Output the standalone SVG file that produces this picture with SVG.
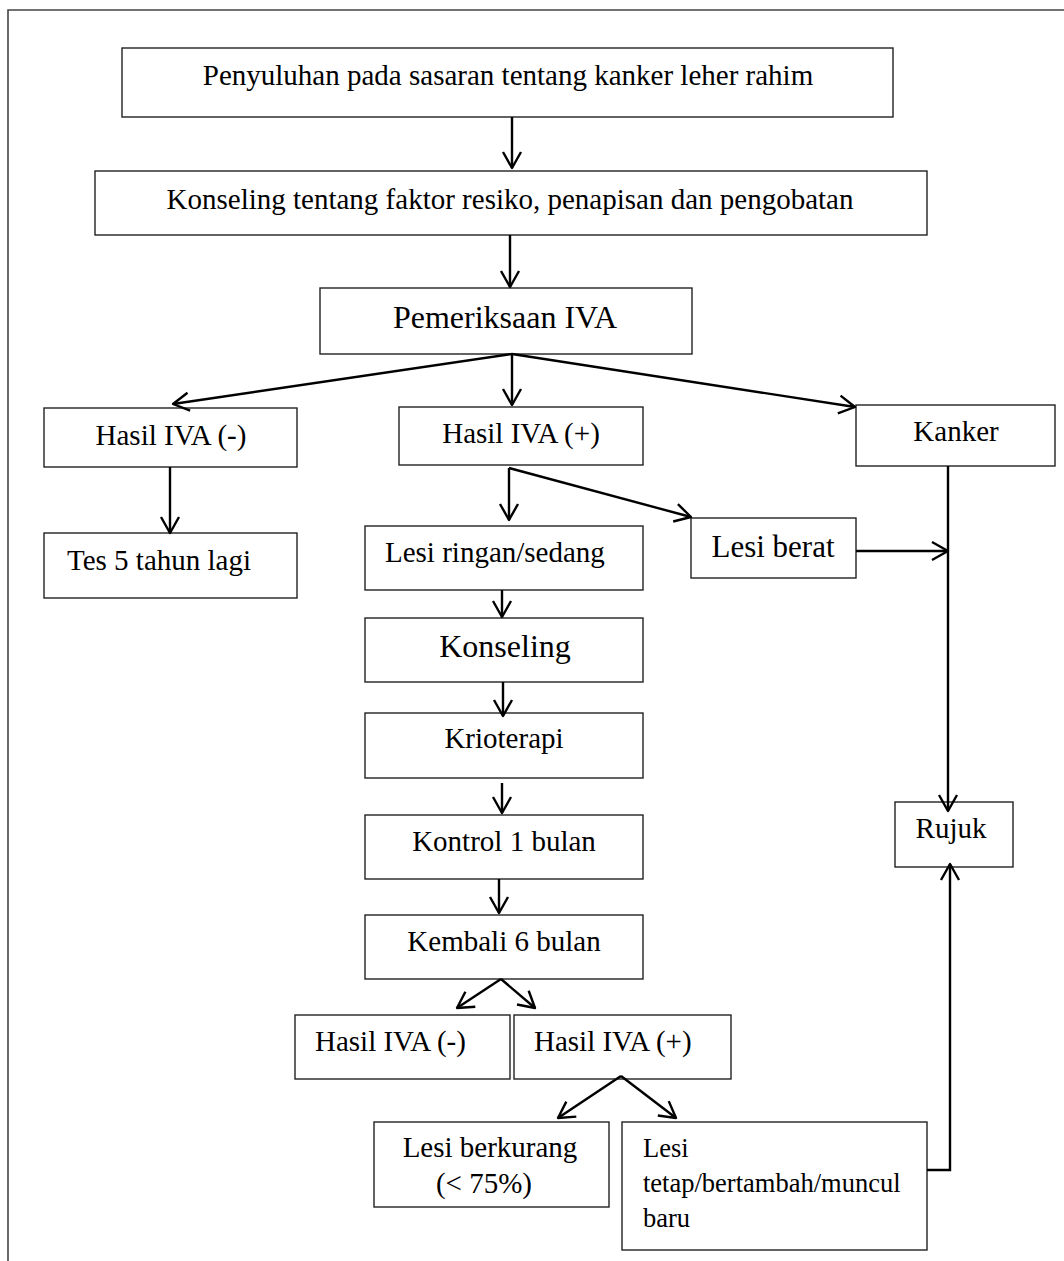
<svg xmlns="http://www.w3.org/2000/svg" width="1064" height="1261" viewBox="0 0 1064 1261">
<style>
.box{fill:#fff;stroke:#222;stroke-width:1.4}
.t{font-family:"Liberation Serif","Times New Roman",serif;font-size:29px;fill:#000}
.c{text-anchor:middle}
.con{fill:none;stroke:#000;stroke-width:2.4;marker-end:url(#ah)}
.ln{fill:none;stroke:#000;stroke-width:2.4}
</style>
<defs>
<marker id="ah" viewBox="0 0 20 20" markerWidth="20" markerHeight="20" refX="16" refY="9" orient="auto" markerUnits="userSpaceOnUse" overflow="visible">
<path d="M0,0 L16,9 L0,18" fill="none" stroke="#000" stroke-width="2.4" stroke-linejoin="round"/>
</marker>
</defs>
<rect width="1064" height="1261" fill="#fff"/>
<g id="frame"><path d="M8,1261 V10 H1064" fill="none" stroke="#444" stroke-width="1.6"/></g>

<g id="n1"><rect class="box" x="122" y="48" width="771" height="69"/><text class="t c" x="508" y="85">Penyuluhan pada sasaran tentang kanker leher rahim</text></g>
<g id="n2"><rect class="box" x="95" y="171" width="832" height="64"/><text class="t c" x="510" y="209">Konseling tentang faktor resiko, penapisan dan pengobatan</text></g>
<g id="n3"><rect class="box" x="320" y="288" width="372" height="66"/><text class="t c" x="505" y="328" style="font-size:32px">Pemeriksaan IVA</text></g>
<g id="n4"><rect class="box" x="44" y="408" width="253" height="59"/><text class="t c" x="171" y="445">Hasil IVA (-)</text></g>
<g id="n5"><rect class="box" x="399" y="407" width="244" height="58"/><text class="t c" x="521" y="443">Hasil IVA (+)</text></g>
<g id="n6"><rect class="box" x="856" y="405" width="199" height="61"/><text class="t c" x="956" y="441">Kanker</text></g>
<g id="n7"><rect class="box" x="44" y="533" width="253" height="65"/><text class="t" x="67" y="570">Tes 5 tahun lagi</text></g>
<g id="n8"><rect class="box" x="365" y="526" width="278" height="64"/><text class="t" x="385" y="562">Lesi ringan/sedang</text></g>
<g id="n9"><rect class="box" x="691" y="518" width="165" height="60"/><text class="t c" x="773" y="557" style="font-size:31px">Lesi berat</text></g>
<g id="n10"><rect class="box" x="365" y="618" width="278" height="64"/><text class="t c" x="505" y="657" style="font-size:32px">Konseling</text></g>
<g id="n11"><rect class="box" x="365" y="713" width="278" height="65"/><text class="t c" x="504" y="748">Krioterapi</text></g>
<g id="n12"><rect class="box" x="365" y="815" width="278" height="64"/><text class="t c" x="504" y="851">Kontrol 1 bulan</text></g>
<g id="n13"><rect class="box" x="365" y="915" width="278" height="64"/><text class="t c" x="504" y="951">Kembali 6 bulan</text></g>
<g id="n14"><rect class="box" x="295" y="1015" width="215" height="64"/><text class="t" x="315" y="1051">Hasil IVA (-)</text></g>
<g id="n15"><rect class="box" x="514" y="1015" width="217" height="64"/><text class="t" x="534" y="1051">Hasil IVA (+)</text></g>
<g id="n16"><rect class="box" x="374" y="1122" width="235" height="85"/><text class="t c" x="490" y="1157">Lesi berkurang</text><text class="t c" x="484" y="1193">(&lt; 75%)</text></g>
<g id="n17"><rect class="box" x="622" y="1122" width="305" height="128"/><text class="t" x="643" y="1157" style="font-size:26.5px">Lesi</text><text class="t" x="643" y="1192" style="font-size:26.5px">tetap/bertambah/muncul</text><text class="t" x="643" y="1227" style="font-size:26.5px">baru</text></g>
<g id="n18"><rect class="box" x="895" y="802" width="118" height="65"/><text class="t c" x="951" y="838">Rujuk</text></g>

<g id="connectors">
<path class="con" d="M512,117 V168"/>
<path class="con" d="M510,235 V287"/>
<path class="con" d="M512,354 L173,404"/>
<path class="con" d="M512,354 V405"/>
<path class="con" d="M512,354 L855,407"/>
<path class="con" d="M170,467 V533"/>
<path class="con" d="M509,468 V520"/>
<path class="con" d="M509,468 L691,517"/>
<path class="con" d="M856,551 H948"/>
<path class="con" d="M948,466 V811"/>
<path class="con" d="M502,590 V617"/>
<path class="con" d="M503,682 V716"/>
<path class="con" d="M502,783 V813"/>
<path class="con" d="M499,879 V913"/>
<path class="con" d="M501,979 L457,1008"/>
<path class="con" d="M501,979 L535,1008"/>
<path class="con" d="M621,1076 L558,1118"/>
<path class="con" d="M621,1076 L676,1118"/>
<path class="con" d="M927,1170 H950 V864"/>
</g>
</svg>
